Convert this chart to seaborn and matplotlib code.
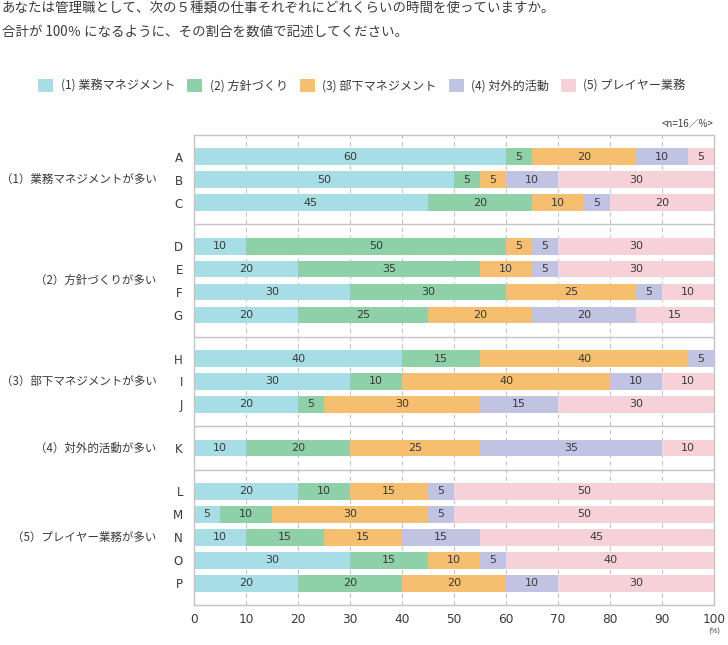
import numpy as np
import pandas as pd
import matplotlib.pyplot as plt
from matplotlib.patches import Patch
import seaborn as sns

# data (percent of working time)
respondents = list("ABCDEFGHIJKLMNOP")
group_labels = ["（1）業務マネジメントが多い", "（2）方針づくりが多い", "（3）部下マネジメントが多い",
                "（4）対外的活動が多い", "（5）プレイヤー業務が多い"]
group_sizes = [3, 4, 3, 1, 5]
categories = ["(1) 業務マネジメント", "(2) 方針づくり", "(3) 部下マネジメント", "(4) 対外的活動", "(5) プレイヤー業務"]

gyomu_mgmt = [60, 50, 45, 10, 20, 30, 20, 40, 30, 20, 10, 20, 5, 10, 30, 20]
houshin = [5, 5, 20, 50, 35, 30, 25, 15, 10, 5, 20, 10, 10, 15, 15, 20]
buka_mgmt = [20, 5, 10, 5, 10, 25, 20, 40, 40, 30, 25, 15, 30, 15, 10, 20]
taigai = [10, 10, 5, 5, 5, 5, 20, 5, 10, 15, 35, 5, 5, 15, 5, 10]
player = [5, 30, 20, 30, 30, 10, 15, 0, 10, 30, 10, 50, 50, 45, 40, 30]

colors = ["#a7dee5", "#8ed1a8", "#f6be6f", "#c1c3e3", "#f7d1d8"]

sns.set_theme(style="white")
plt.rcParams['font.family'] = ['Noto Sans CJK JP', 'DejaVu Sans']
text_col = "#3a3a3a"
line_col = "#c4c4c4"
num_font = ['DejaVu Sans']

# row positions: groups separated by lines, rows one unit apart
pad = 0.945
ypos = []
seps = [0.0]
for n in group_sizes:
    start = seps[-1] + pad
    ypos += [start + i for i in range(n)]
    seps.append(start + n - 1 + pad)

values = np.array([gyomu_mgmt, houshin, buka_mgmt, taigai, player])
cum = values.cumsum(axis=0)
df = pd.DataFrame({"respondent": respondents, "y": ypos})
for k, c in enumerate(categories):
    df["cum_" + str(k)] = cum[k]

fig = plt.figure(figsize=(7.28, 6.45), dpi=100)
ax = fig.add_axes([194 / 728, 1 - 605 / 645, 520 / 728, 470 / 645])

# stacked bars: draw cumulative totals from the last category back to the first
for k in range(4, -1, -1):
    sns.barplot(data=df, x="cum_" + str(k), y="y", orient="h", native_scale=True,
                color=colors[k], saturation=1, width=0.73, errorbar=None,
                linewidth=0, ax=ax, zorder=2)

# segment labels
for i, y in enumerate(ypos):
    for k in range(5):
        v = values[k][i]
        if v > 0:
            ax.text(cum[k][i] - v / 2, y, str(v), ha="center", va="center",
                    fontsize=8, family=num_font, color=text_col, zorder=3)

# dashed grid and group separators
for x in range(10, 100, 10):
    ax.axvline(x, color=line_col, lw=0.8, ls=(0, (4, 3)), zorder=1)
for s in seps[1:-1]:
    ax.axhline(s, color=line_col, lw=1, zorder=1)

ax.set_xlim(0, 100)
ax.set_ylim(seps[-1], 0)
ax.set_xticks(range(0, 101, 10))
ax.set_xticklabels([str(x) for x in range(0, 101, 10)])
ax.set_yticks(ypos)
ax.set_yticklabels(respondents)
for lab in ax.get_xticklabels():
    lab.set_fontfamily(num_font)
    lab.set_fontsize(8.7)
    lab.set_color(text_col)
for lab in ax.get_yticklabels():
    lab.set_fontfamily(num_font)
    lab.set_fontsize(8.5)
    lab.set_color(text_col)
ax.tick_params(axis="both", length=0)
ax.tick_params(axis="y", pad=8)
ax.tick_params(axis="x", pad=6)
ax.set_xlabel("")
ax.set_ylabel("")
for sp in ax.spines.values():
    sp.set_color(line_col)
    sp.set_linewidth(1)

# group labels on the left
start = 0
for lab, n in zip(group_labels, group_sizes):
    yc = (ypos[start] + ypos[start + n - 1]) / 2
    ax.text(-0.072, yc, lab, transform=ax.get_yaxis_transform(), ha="right", va="center",
            fontsize=8.3, color=text_col)
    start += n

# titles, legend and notes
fig.text(2 / 728, 1 - 9 / 645, "あなたは管理職として、次の５種類の仕事それぞれにどれくらいの時間を使っていますか。",
         fontsize=9.7, color=text_col, va="center")
fig.text(2 / 728, 1 - 32 / 645, "合計が 100％ になるように、その割合を数値で記述してください。",
         fontsize=9.7, color=text_col, va="center")

handles = [Patch(facecolor=c, edgecolor="none") for c in colors]
fig.legend(handles, categories, loc="center", bbox_to_anchor=(362 / 728, 1 - 86 / 645), ncol=5,
           frameon=False, fontsize=8.7, handlelength=1.25, handleheight=1.25,
           handletextpad=0.6, columnspacing=1.0, labelcolor=text_col)

fig.text(713 / 728, 1 - 124 / 645, "<n=16／%>", fontsize=7, color=text_col, ha="right", va="center")
fig.text(714 / 728, 1 - 632 / 645, "(%)", fontsize=5.5, color=text_col, ha="center", va="center")

fig.savefig("out.png", dpi=100)
